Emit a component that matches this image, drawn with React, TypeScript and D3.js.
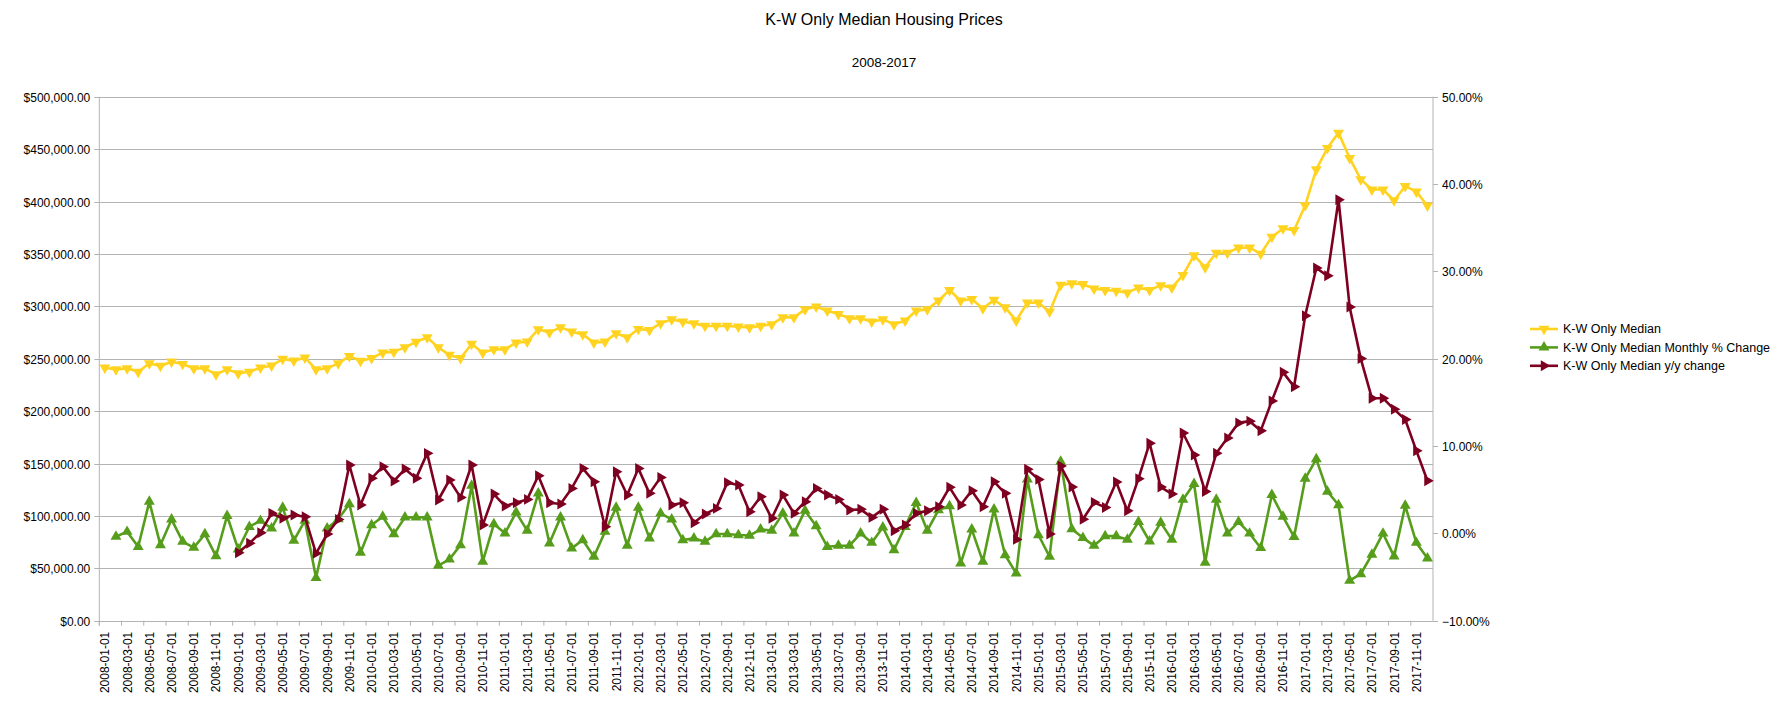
import React, { useRef, useEffect } from "react";
import * as d3 from "d3";

// monthly categories 2008-01 .. 2017-12
const months: string[] = d3
  .timeMonths(new Date(2008, 0, 1), new Date(2018, 0, 1))
  .map(d => d3.timeFormat("%Y-%m-%d")(d));

// K-W only median price, in thousands of dollars
const median: number[] = [
  241.4, 239.8, 240.8, 237.5, 245.5, 243.0, 247.1, 244.9, 240.8, 240.8, 235.0, 239.8,
  236.0, 237.5, 241.4, 243.3, 249.7, 248.1, 251.0, 239.8, 240.8, 245.5, 252.5, 247.8,
  250.4, 255.8, 256.5, 260.8, 266.0, 270.3, 260.8, 253.5, 250.4, 264.0, 255.7, 258.9,
  258.9, 265.3, 266.2, 278.0, 275.1, 279.9, 275.8, 273.2, 265.3, 266.2, 274.2, 270.3,
  278.3, 277.3, 283.7, 287.5, 285.3, 283.7, 281.2, 281.2, 281.2, 280.5, 279.9, 281.2,
  282.8, 289.4, 289.4, 297.1, 299.6, 295.8, 292.6, 288.5, 288.5, 285.3, 287.5, 282.8,
  286.3, 295.8, 297.1, 305.3, 315.5, 305.3, 306.9, 298.0, 306.0, 299.0, 286.3, 303.4,
  303.4, 294.8, 320.3, 321.9, 321.1, 316.9, 315.5, 314.6, 313.0, 317.8, 315.5, 320.0,
  317.8, 329.7, 348.5, 337.2, 351.0, 351.0, 355.9, 355.9, 350.1, 366.2, 374.3, 372.6,
  396.2, 430.7, 451.0, 465.5, 441.4, 421.1, 411.4, 411.4, 401.0, 414.6, 409.4, 396.0
];

// month over month change, percent
const monthly: (number | null)[] = [
  null, -0.38, 0.19, -1.53, 3.63, -1.34, 1.6, -0.95, -1.64, -0.08, -2.6, 2.02,
  -1.83, 0.76, 1.45, 0.57, 2.94, -0.84, 1.45, -5.08, 0.57, 1.64, 3.36, -2.21,
  0.95, 1.91, -0.08, 1.83, 1.83, 1.83, -3.7, -2.98, -1.34, 5.46, -3.24, 1.07,
  0.0, 2.41, 0.31, 4.58, -1.14, 1.83, -1.72, -0.76, -2.67, 0.19, 2.94, -1.41,
  2.94, -0.57, 2.29, 1.6, -0.76, -0.57, -0.95, -0.08, -0.08, -0.19, -0.25, 0.46,
  0.31, 2.29, 0.0, 2.6, 0.84, -1.53, -1.41, -1.41, 0.0, -1.07, 0.69, -1.91,
  0.76, 3.51, 0.31, 2.67, 3.13, -3.43, 0.46, -3.24, 2.75, -2.48, -4.58, 6.18,
  -0.19, -2.67, 8.21, 0.5, -0.51, -1.4, -0.32, -0.32, -0.7, 1.31, -0.9, 1.23,
  -0.7, 3.86, 5.68, -3.34, 3.86, -0.01, 1.31, -0.01, -1.67, 4.4, 1.93, -0.39,
  6.26, 8.51, 4.79, 3.25, -5.42, -4.65, -2.44, -0.01, -2.64, 3.17, -1.07, -2.86
];

// year over year change, percent
const yearly: (number | null)[] = [
  null, null, null, null, null, null, null, null, null, null, null, null,
  -2.21, -1.14, 0.08, 2.29, 1.72, 2.1, 1.91, -2.29, -0.08, 1.6, 7.83, 3.25,
  6.3, 7.64, 5.99, 7.36, 6.3, 9.16, 3.82, 6.11, 4.12, 7.83, 0.95, 4.5,
  3.13, 3.51, 3.89, 6.6, 3.51, 3.36, 5.15, 7.44, 5.92, 0.76, 7.06, 4.39,
  7.44, 4.58, 6.41, 3.25, 3.51, 1.22, 2.21, 2.86, 5.8, 5.54, 2.48, 4.2,
  1.72, 4.39, 2.29, 3.63, 5.15, 4.39, 3.89, 2.67, 2.75, 1.83, 2.75, 0.31,
  0.95, 2.29, 2.6, 3.05, 5.27, 3.25, 4.89, 3.05, 5.92, 4.58, -0.69, 7.33,
  6.18, -0.08, 7.71, 5.3, 1.62, 3.55, 2.97, 5.88, 2.59, 6.26, 10.33, 5.3,
  4.52, 11.49, 8.97, 4.79, 9.17, 10.91, 12.65, 12.85, 11.76, 15.17, 18.46, 16.79,
  24.92, 30.38, 29.49, 38.2, 25.93, 20.01, 15.48, 15.48, 14.2, 13.04, 9.47, 6.03
];

const seriesNames = [
  "K-W Only Median",
  "K-W Only Median Monthly % Change",
  "K-W Only Median y/y change"
];
const seriesColors = ["#ffd320", "#579d1c", "#7e0021"];
const markerRotation = [180, 0, 90];

const leftTicks = [0, 50, 100, 150, 200, 250, 300, 350, 400, 450, 500];
const rightTicks = [-10, 0, 10, 20, 30, 40, 50];

const App = () => {
  const node: any = useRef();

  useEffect(() => {
    document.body.style.margin = "0";
    const width = 1778,
      height = 703;
    const left = 99.3,
      right = 1433,
      top = 96.7,
      bottom = 620.7;
    const font = "'Liberation Sans', Arial, sans-serif";
    const grid = "#b3b3b3";

    const svg = d3.select(node.current).attr("width", width).attr("height", height);
    svg.selectAll("*").remove();

    const x = d3.scaleBand().domain(months).range([left, right]).padding(0);
    const cx = (m: string) => (x(m) as number) + x.bandwidth() / 2;
    const yL = d3.scaleLinear().domain([0, 500]).range([bottom, top]);
    const yR = d3.scaleLinear().domain([-10, 50]).range([bottom, top]);

    // title
    svg
      .append("text")
      .attr("x", 884)
      .attr("y", 25)
      .attr("text-anchor", "middle")
      .attr("font-family", font)
      .attr("font-size", 16)
      .text("K-W Only Median Housing Prices");
    svg
      .append("text")
      .attr("x", 884)
      .attr("y", 66.5)
      .attr("text-anchor", "middle")
      .attr("font-family", font)
      .attr("font-size", 13.5)
      .text("2008-2017");

    // gridlines + left axis
    const gl = svg.append("g");
    leftTicks.forEach(t => {
      const yy = Math.round(yL(t)) + 0.5;
      gl.append("line")
        .attr("x1", left - 5)
        .attr("x2", right)
        .attr("y1", yy)
        .attr("y2", yy)
        .attr("stroke", grid);
      gl.append("text")
        .attr("x", left - 9)
        .attr("y", yy)
        .attr("dy", "0.35em")
        .attr("text-anchor", "end")
        .attr("font-family", font)
        .attr("font-size", 12)
        .text(d3.format("$,.2f")(t * 1000));
    });
    gl.append("line")
      .attr("x1", left).attr("x2", left)
      .attr("y1", top).attr("y2", bottom + 5)
      .attr("stroke", grid);
    gl.append("line")
      .attr("x1", right).attr("x2", right)
      .attr("y1", top).attr("y2", bottom)
      .attr("stroke", grid);

    // right axis
    rightTicks.forEach(t => {
      const yy = Math.round(yR(t)) + 0.5;
      gl.append("line")
        .attr("x1", right)
        .attr("x2", right + 5)
        .attr("y1", yy)
        .attr("y2", yy)
        .attr("stroke", grid);
      gl.append("text")
        .attr("x", right + 9)
        .attr("y", yy)
        .attr("dy", "0.35em")
        .attr("font-family", font)
        .attr("font-size", 12)
        .text(d3.format(".2f")(t) + "%");
    });

    // x ticks and labels, every other month
    months.forEach((m, i) => {
      if (i % 2) return;
      const xx = x(m) as number;
      gl.append("line")
        .attr("x1", xx).attr("x2", xx)
        .attr("y1", bottom).attr("y2", bottom + 5)
        .attr("stroke", grid);
      gl.append("text")
        .attr("transform", `translate(${cx(m) + 4.5},${bottom + 11}) rotate(-90)`)
        .attr("text-anchor", "end")
        .attr("font-family", font)
        .attr("font-size", 12)
        .text(m);
    });

    // series
    const series = [
      { values: median as (number | null)[], y: yL },
      { values: monthly, y: yR },
      { values: yearly, y: yR }
    ];
    const symbol = d3.symbol(d3.symbolTriangle, 52);

    series.forEach((s, k) => {
      const pts = s.values
        .map((v, i) => ({ v, m: months[i] }))
        .filter(d => d.v !== null) as { v: number; m: string }[];
      const line = d3
        .line<{ v: number; m: string }>()
        .x(d => cx(d.m))
        .y(d => s.y(d.v));
      svg
        .append("path")
        .attr("d", line(pts) as string)
        .attr("fill", "none")
        .attr("stroke", seriesColors[k])
        .attr("stroke-width", 2.6)
        .attr("stroke-linejoin", "round");
      svg
        .append("g")
        .selectAll("path")
        .data(pts)
        .enter()
        .append("path")
        .attr("d", symbol() as string)
        .attr(
          "transform",
          d => `translate(${cx(d.m)},${s.y(d.v)}) rotate(${markerRotation[k]})`
        )
        .attr("fill", seriesColors[k]);
    });

    // legend
    const lg = svg.append("g");
    seriesNames.forEach((name, k) => {
      const yy = 329 + k * 18.4;
      lg.append("line")
        .attr("x1", 1530).attr("x2", 1558)
        .attr("y1", yy).attr("y2", yy)
        .attr("stroke", seriesColors[k])
        .attr("stroke-width", 2.6);
      lg.append("path")
        .attr("d", symbol() as string)
        .attr("transform", `translate(1544,${yy}) rotate(${markerRotation[k]})`)
        .attr("fill", seriesColors[k]);
      lg.append("text")
        .attr("x", 1563)
        .attr("y", yy)
        .attr("dy", "0.35em")
        .attr("font-family", font)
        .attr("font-size", 12.5)
        .text(name);
    });
  }, []);

  return (
    <div>
      <svg ref={node} style={{ display: "block" }}></svg>
    </div>
  );
};

export default App;
